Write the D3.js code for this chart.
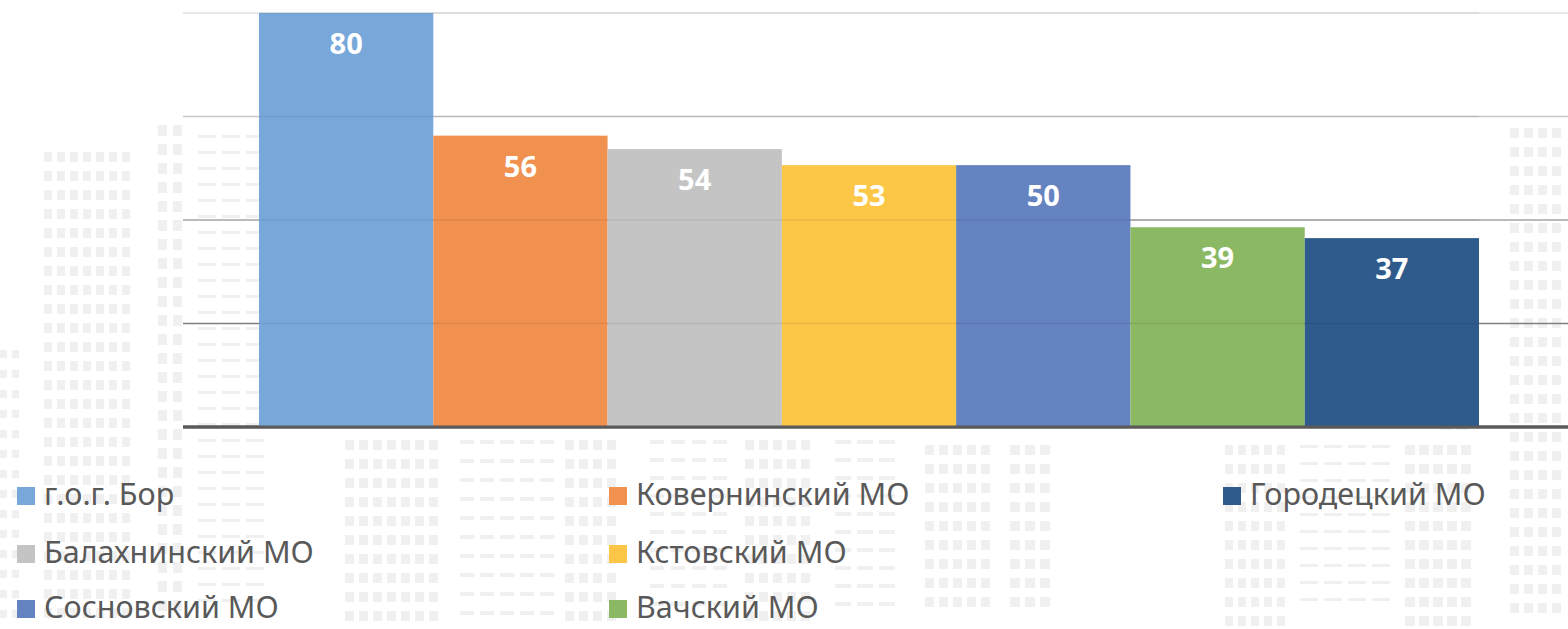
<!DOCTYPE html>
<html>
<head>
<meta charset="utf-8">
<script src="https://cdn.jsdelivr.net/npm/d3@7"></script>
<style>
  html, body { margin: 0; padding: 0; background: #fff; }
  svg { display: block; }
</style>
</head>
<body>
<div id="chart"></div>
<script>
// data
const districts = ["г.о.г. Бор", "Ковернинский МО", "Балахнинский МО", "Кстовский МО", "Сосновский МО", "Вачский МО", "Городецкий МО"];
const barHeights = [80, 56.3, 53.7, 50.6, 50.6, 38.6, 36.5]; // as drawn
const labelValues = [80, 56, 54, 53, 50, 39, 37];             // printed labels
const colors = ["#78a8da", "#f0914f", "#c4c4c4", "#fcc647", "#6583c1", "#8bb862", "#2e5b8c"];
const yTicks = [0, 20, 40, 60, 80];
const gridColors = ["#5a5a5a", "#7f7f7f", "#a3a3a3", "#c6c6c6", "#e2e2e2"];

const W = 1568, H = 629;

const svg = d3.select("#chart").append("svg")
  .attr("width", W).attr("height", H)
  .style("font-family", "'Noto Sans', 'Open Sans', sans-serif");

// faint city background
const bg = svg.append("g").attr("fill", "#f0f0f0");

function facade(x0, y0, cols, rows, w, h, sx, sy) {
  const cells = d3.cross(d3.range(cols), d3.range(rows));
  bg.selectAll(null).data(cells).join("rect")
    .attr("x", (d) => x0 + d[0] * sx)
    .attr("y", (d) => y0 + d[1] * sy)
    .attr("width", w).attr("height", h);
}

facade(44, 152, 7, 25, 8, 10, 13, 19);
facade(158, 125, 2, 26, 9, 11, 15, 19);
facade(198, 135, 3, 30, 18, 3, 24, 16);
facade(0, 350, 2, 14, 7, 8, 12, 20);
facade(345, 440, 7, 10, 9, 10, 14, 19);
facade(460, 440, 5, 10, 14, 4, 20, 19);
facade(565, 440, 4, 10, 9, 10, 14, 19);
facade(650, 440, 4, 10, 14, 4, 21, 18);
facade(745, 440, 5, 10, 9, 10, 14, 19);
facade(835, 440, 3, 10, 16, 4, 22, 18);
facade(925, 445, 5, 9, 9, 10, 14, 19);
facade(1010, 445, 3, 9, 10, 10, 15, 19);
facade(1225, 445, 5, 10, 8, 10, 13, 19);
facade(1300, 445, 4, 10, 18, 3, 24, 17);
facade(1405, 445, 5, 10, 10, 10, 14, 19);
facade(1510, 128, 4, 26, 9, 10, 14, 19);
facade(1440, 300, 2, 8, 12, 4, 16, 18);

const x = d3.scaleBand().domain(districts).range([259, 1479]).padding(0);
const y = d3.scaleLinear().domain([0, 80]).range([427, 13]);

// gridlines
svg.append("g").selectAll("line").data(yTicks).join("line")
  .attr("x1", 183).attr("x2", W)
  .attr("y1", (d) => y(d)).attr("y2", (d) => y(d))
  .attr("stroke", (d, i) => gridColors[i])
  .attr("stroke-width", (d) => (d === 0 ? 3 : 1.6));

// bars
svg.append("g").selectAll("rect").data(districts).join("rect")
  .attr("x", (d) => x(d))
  .attr("y", (d, i) => y(barHeights[i]))
  .attr("width", x.bandwidth())
  .attr("height", (d, i) => y(0) - y(barHeights[i]))
  .attr("fill", (d, i) => colors[i]);

// gridlines faintly through the bars
svg.append("g").selectAll("line").data(yTicks.slice(1)).join("line")
  .attr("x1", 259).attr("x2", 1479)
  .attr("y1", (d) => y(d)).attr("y2", (d) => y(d))
  .attr("stroke", "#000").attr("stroke-opacity", 0.07)
  .attr("stroke-width", 1.6);

// baseline on top
svg.append("line")
  .attr("x1", 183).attr("x2", W)
  .attr("y1", y(0)).attr("y2", y(0))
  .attr("stroke", gridColors[0]).attr("stroke-width", 3);

// value labels
svg.append("g").selectAll("text").data(districts).join("text")
  .attr("x", (d) => x(d) + x.bandwidth() / 2)
  .attr("y", (d, i) => y(barHeights[i]) + 41)
  .attr("text-anchor", "middle")
  .attr("fill", "#fff")
  .style("font-size", "29px")
  .style("font-weight", "700")
  .text((d, i) => labelValues[i]);

// legend (3 columns, last item wraps to third column)
const colX = [17, 609, 1223];
const rowY = [505, 563, 618];
const legend = svg.append("g").selectAll("g").data(districts).join("g")
  .attr("transform", (d, i) => {
    const col = i < 6 ? i % 2 : 2;
    const row = i < 6 ? Math.floor(i / 2) : 0;
    return `translate(${colX[col]},${rowY[row]})`;
  });

legend.append("rect")
  .attr("x", 0).attr("y", -18)
  .attr("width", 18).attr("height", 18)
  .attr("fill", (d, i) => colors[i]);

legend.append("text")
  .attr("x", 27).attr("y", 0)
  .attr("fill", "#595959")
  .style("font-size", "30.5px")
  .text((d) => d);
</script>
</body>
</html>
